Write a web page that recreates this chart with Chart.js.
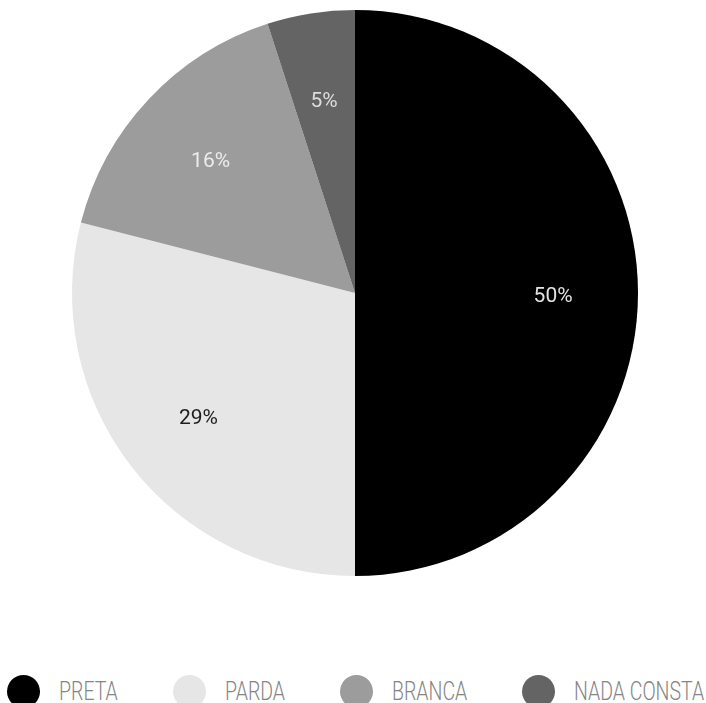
<!DOCTYPE html>
<html>
<head>
<meta charset="utf-8">
<script src="https://cdn.jsdelivr.net/npm/chart.js@4.4.1/dist/chart.umd.min.js"></script>
<style>
html, body { margin: 0; padding: 0; background: #fff; overflow: hidden; }
#wrap { position: relative; width: 706px; height: 703px; }
#pie { position: absolute; left: 0; top: 0; }
#legend {
	position: absolute; left: 7px; right: 2px; top: 675px;
	display: flex; justify-content: space-between; align-items: center;
	font-family: Roboto, sans-serif; font-weight: 300;
	font-size: 25px; color: #858585;
}
#legend .item { display: flex; align-items: center; }
#legend .dot { width: 33px; height: 33px; border-radius: 50%; margin-right: 19px; flex: none; }
#legend .txt { display: inline-block; white-space: nowrap; transform-origin: 0 50%; }
</style>
</head>
<body>
<div id="wrap">
	<canvas id="pie" width="706" height="576"></canvas>
	<div id="legend"></div>
</div>
<script>
// data
var labels = ["PRETA", "PARDA", "BRANCA", "NADA CONSTA"];
var values = [50, 29, 16, 5];

// texto das porcentagens dentro das fatias
var pctLabels = {
	id: 'pctLabels',
	afterDatasetsDraw: function(chart) {
		var ctx = chart.ctx;
		var meta = chart.getDatasetMeta(0);
		var ds = chart.data.datasets[0];
		var total = 0;
		for(var i=0; i<values.length; i++) total += values[i];
		ctx.save();
		ctx.font = '21px Roboto';
		ctx.textAlign = 'center';
		ctx.textBaseline = 'middle';
		meta.data.forEach(function(arc, i) {
			var p = arc.getProps(['x', 'y', 'startAngle', 'endAngle', 'outerRadius'], true);
			var mid = (p.startAngle + p.endAngle) / 2;
			var r = p.outerRadius * 0.7;
			ctx.fillStyle = ds.labelColor[i];
			ctx.fillText(Math.round(values[i] / total * 100) + '%', p.x + Math.cos(mid) * r, p.y + Math.sin(mid) * r + 4);
		});
		ctx.restore();
	}
};

var chart = new Chart(document.getElementById('pie'), {
	type: 'pie',
	data: {
		labels: labels,
		datasets: [{
			data: values,
			backgroundColor: ['#000000', '#e6e6e6', '#9c9c9c', '#646464'],
			labelColor: ['#e2e2e2', '#1e1e1e', '#ececec', '#dddddd'],
			borderWidth: 0
		}]
	},
	options: {
		responsive: false,
		animation: false,
		layout: { padding: { top: 10, left: 4 } },
		plugins: {
			legend: { display: false },
			tooltip: { enabled: false }
		}
	},
	plugins: [pctLabels]
});

// legenda em html (texto estreito)
var html = '';
for(var i=0; i<labels.length; i++) {
	html += '<div class="item"><span class="dot" style="background:' + chart.data.datasets[0].backgroundColor[i] + '"></span><span class="txt">' + labels[i] + '</span></div>';
}
document.getElementById('legend').innerHTML = html;
var txt = document.querySelectorAll('#legend .txt');
for(var i=0; i<txt.length; i++) {
	var w = txt[i].offsetWidth;
	txt[i].style.width = (w * 0.78) + 'px';
	txt[i].style.transform = 'scaleX(0.78)';
}
</script>
</body>
</html>
